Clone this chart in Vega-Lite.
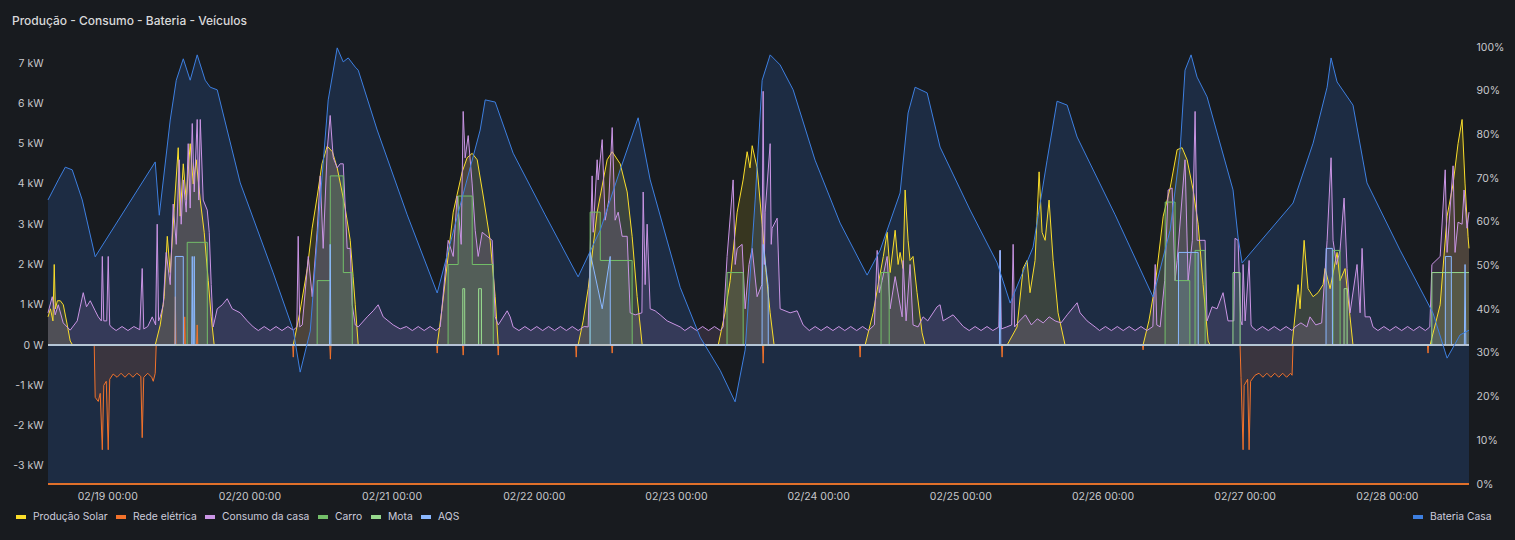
{
  "$schema": "https://vega.github.io/schema/vega-lite/v6.json",
  "width": 1421,
  "height": 437,
  "autosize": {"type": "none"},
  "padding": {"left": 48, "top": 47, "right": 46, "bottom": 56},
  "background": "#181b1f",
  "title": {"text": "Produção - Consumo - Bateria - Veículos", "anchor": "start", "frame": "group", "dx": -36, "offset": 14, "fontSize": 12, "fontWeight": 500, "color": "#d8d9da"},
  "config": {
    "font": "Inter",
    "view": {"stroke": null},
    "axis": {"labelColor": "#c7c8cc", "labelFontSize": 10.5, "grid": false, "domain": false, "ticks": false, "title": null},
    "legend": {"labelColor": "#ccccdc", "labelFontSize": 10.3}
  },
  "datasets": {
    "bat": [
      {"t": "2025-02-18T14:00", "v": 65}, {"t": "2025-02-18T15:45", "v": 69.6}, {"t": "2025-02-18T16:55", "v": 72.5},
      {"t": "2025-02-18T18:05", "v": 71.9}, {"t": "2025-02-18T19:47", "v": 65}, {"t": "2025-02-18T21:58", "v": 52},
      {"t": "2025-02-19T08:06", "v": 73.7}, {"t": "2025-02-19T08:47", "v": 61.5}, {"t": "2025-02-19T10:38", "v": 83.3},
      {"t": "2025-02-19T11:39", "v": 92.4}, {"t": "2025-02-19T12:50", "v": 97.3}, {"t": "2025-02-19T14:00", "v": 92.4},
      {"t": "2025-02-19T15:11", "v": 98.2}, {"t": "2025-02-19T16:32", "v": 92.4}, {"t": "2025-02-19T17:23", "v": 90.8},
      {"t": "2025-02-19T18:34", "v": 90.2}, {"t": "2025-02-19T22:27", "v": 68.9}, {"t": "2025-02-20T04:01", "v": 48.3},
      {"t": "2025-02-20T07:24", "v": 35.2}, {"t": "2025-02-20T08:34", "v": 25.6}, {"t": "2025-02-20T10:16", "v": 35},
      {"t": "2025-02-20T11:57", "v": 65}, {"t": "2025-02-20T13:18", "v": 87.9}, {"t": "2025-02-20T14:49", "v": 99.8},
      {"t": "2025-02-20T15:50", "v": 96.6}, {"t": "2025-02-20T16:41", "v": 97.5}, {"t": "2025-02-20T17:52", "v": 95.4},
      {"t": "2025-02-20T18:22", "v": 94.7}, {"t": "2025-02-20T21:34", "v": 81}, {"t": "2025-02-21T02:38", "v": 61.6},
      {"t": "2025-02-21T07:42", "v": 43.7}, {"t": "2025-02-21T11:35", "v": 63.8}, {"t": "2025-02-21T14:57", "v": 81},
      {"t": "2025-02-21T15:48", "v": 87.9}, {"t": "2025-02-21T17:29", "v": 87.4}, {"t": "2025-02-21T20:31", "v": 75.7},
      {"t": "2025-02-22T01:55", "v": 61.6}, {"t": "2025-02-22T07:29", "v": 47.4}, {"t": "2025-02-22T11:13", "v": 58.1},
      {"t": "2025-02-22T14:35", "v": 71.9}, {"t": "2025-02-22T17:37", "v": 83.8}, {"t": "2025-02-22T19:39", "v": 69.6},
      {"t": "2025-02-23T00:43", "v": 45}, {"t": "2025-02-23T04:05", "v": 33.6}, {"t": "2025-02-23T07:28", "v": 26},
      {"t": "2025-02-23T09:59", "v": 18.8}, {"t": "2025-02-23T11:41", "v": 30.7}, {"t": "2025-02-23T13:22", "v": 65},
      {"t": "2025-02-23T14:33", "v": 92.4}, {"t": "2025-02-23T15:54", "v": 98.2}, {"t": "2025-02-23T17:35", "v": 95.9},
      {"t": "2025-02-23T19:47", "v": 90.2}, {"t": "2025-02-23T23:29", "v": 74.1}, {"t": "2025-02-24T03:43", "v": 59.7},
      {"t": "2025-02-24T08:16", "v": 47.8}, {"t": "2025-02-24T10:28", "v": 53.5}, {"t": "2025-02-24T13:50", "v": 66.6},
      {"t": "2025-02-24T15:11", "v": 84.9}, {"t": "2025-02-24T16:22", "v": 90.8}, {"t": "2025-02-24T18:24", "v": 89.5},
      {"t": "2025-02-24T20:35", "v": 77.1}, {"t": "2025-02-25T01:39", "v": 62.7}, {"t": "2025-02-25T06:13", "v": 50.6},
      {"t": "2025-02-25T08:25", "v": 41.4}, {"t": "2025-02-25T12:17", "v": 54.2}, {"t": "2025-02-25T14:39", "v": 74.1},
      {"t": "2025-02-25T16:20", "v": 87.6}, {"t": "2025-02-25T18:02", "v": 86.7}, {"t": "2025-02-25T19:43", "v": 79.4},
      {"t": "2025-02-26T02:08", "v": 61.6}, {"t": "2025-02-26T08:32", "v": 42.8}, {"t": "2025-02-26T11:25", "v": 58.1},
      {"t": "2025-02-26T13:06", "v": 76.4}, {"t": "2025-02-26T13:56", "v": 94.7}, {"t": "2025-02-26T14:57", "v": 98.2},
      {"t": "2025-02-26T15:58", "v": 93.1}, {"t": "2025-02-26T17:39", "v": 88.6}, {"t": "2025-02-26T22:02", "v": 67.3},
      {"t": "2025-02-26T22:53", "v": 56.5}, {"t": "2025-02-26T23:34", "v": 50.6}, {"t": "2025-02-27T08:10", "v": 64.3},
      {"t": "2025-02-27T11:33", "v": 78}, {"t": "2025-02-27T13:55", "v": 90.8}, {"t": "2025-02-27T14:35", "v": 97.5},
      {"t": "2025-02-27T15:36", "v": 92}, {"t": "2025-02-27T18:17", "v": 86.7}, {"t": "2025-02-27T20:39", "v": 68.9},
      {"t": "2025-02-28T02:14", "v": 53.5}, {"t": "2025-02-28T07:48", "v": 39.1}, {"t": "2025-02-28T10:10", "v": 28.8},
      {"t": "2025-02-28T12:21", "v": 34.1}, {"t": "2025-02-28T13:52", "v": 35.2}
    ],
    "pw": [
      {"s": "S", "t": "2025-02-18T14:00", "v": 0.7}, {"s": "S", "t": "2025-02-18T14:25", "v": 0.9}, {"s": "S", "t": "2025-02-18T14:50", "v": 0.6},
      {"s": "S", "t": "2025-02-18T15:03", "v": 2.0}, {"s": "S", "t": "2025-02-18T15:15", "v": 0.9}, {"s": "S", "t": "2025-02-18T15:35", "v": 1.1},
      {"s": "S", "t": "2025-02-18T16:05", "v": 1.1}, {"s": "S", "t": "2025-02-18T16:35", "v": 1.0}, {"s": "S", "t": "2025-02-18T17:15", "v": 0.5},
      {"s": "S", "t": "2025-02-18T17:45", "v": 0.1}, {"s": "S", "t": "2025-02-18T18:10", "v": 0},
      {"s": "S", "t": "2025-02-19T08:06", "v": 0}, {"s": "S", "t": "2025-02-19T08:57", "v": 0.5}, {"s": "S", "t": "2025-02-19T09:37", "v": 1.2},
      {"s": "S", "t": "2025-02-19T10:08", "v": 2.7}, {"s": "S", "t": "2025-02-19T10:38", "v": 1.8}, {"s": "S", "t": "2025-02-19T11:18", "v": 3.4},
      {"s": "S", "t": "2025-02-19T11:59", "v": 4.9}, {"s": "S", "t": "2025-02-19T12:19", "v": 3.2}, {"s": "S", "t": "2025-02-19T12:50", "v": 4.5},
      {"s": "S", "t": "2025-02-19T13:20", "v": 3.6}, {"s": "S", "t": "2025-02-19T14:00", "v": 5.0}, {"s": "S", "t": "2025-02-19T14:31", "v": 4.0},
      {"s": "S", "t": "2025-02-19T15:01", "v": 4.6}, {"s": "S", "t": "2025-02-19T15:42", "v": 3.6}, {"s": "S", "t": "2025-02-19T16:22", "v": 2.8},
      {"s": "S", "t": "2025-02-19T17:03", "v": 1.6}, {"s": "S", "t": "2025-02-19T17:33", "v": 0.7}, {"s": "S", "t": "2025-02-19T18:03", "v": 0},
      {"s": "S", "t": "2025-02-20T07:24", "v": 0}, {"s": "S", "t": "2025-02-20T08:30", "v": 0.8}, {"s": "S", "t": "2025-02-20T09:46", "v": 1.9},
      {"s": "S", "t": "2025-02-20T10:35", "v": 2.9}, {"s": "S", "t": "2025-02-20T11:27", "v": 3.7}, {"s": "S", "t": "2025-02-20T12:15", "v": 4.5},
      {"s": "S", "t": "2025-02-20T13:08", "v": 4.94}, {"s": "S", "t": "2025-02-20T14:00", "v": 4.8}, {"s": "S", "t": "2025-02-20T14:49", "v": 4.4},
      {"s": "S", "t": "2025-02-20T15:30", "v": 3.9}, {"s": "S", "t": "2025-02-20T16:10", "v": 3.4}, {"s": "S", "t": "2025-02-20T17:01", "v": 2.6},
      {"s": "S", "t": "2025-02-20T17:30", "v": 1.7}, {"s": "S", "t": "2025-02-20T17:52", "v": 1.0}, {"s": "S", "t": "2025-02-20T18:22", "v": 0},
      {"s": "S", "t": "2025-02-21T07:42", "v": 0}, {"s": "S", "t": "2025-02-21T08:30", "v": 0.9}, {"s": "S", "t": "2025-02-21T09:23", "v": 2.0},
      {"s": "S", "t": "2025-02-21T10:24", "v": 3.3}, {"s": "S", "t": "2025-02-21T11:55", "v": 4.3}, {"s": "S", "t": "2025-02-21T12:45", "v": 4.65},
      {"s": "S", "t": "2025-02-21T13:36", "v": 4.76}, {"s": "S", "t": "2025-02-21T14:27", "v": 4.6}, {"s": "S", "t": "2025-02-21T15:28", "v": 3.7},
      {"s": "S", "t": "2025-02-21T16:38", "v": 2.6}, {"s": "S", "t": "2025-02-21T17:29", "v": 1.2}, {"s": "S", "t": "2025-02-21T18:00", "v": 0},
      {"s": "S", "t": "2025-02-22T07:29", "v": 0}, {"s": "S", "t": "2025-02-22T08:20", "v": 0.6}, {"s": "S", "t": "2025-02-22T09:11", "v": 1.4},
      {"s": "S", "t": "2025-02-22T10:42", "v": 3.3}, {"s": "S", "t": "2025-02-22T12:23", "v": 4.6}, {"s": "S", "t": "2025-02-22T13:14", "v": 4.8},
      {"s": "S", "t": "2025-02-22T14:35", "v": 4.5}, {"s": "S", "t": "2025-02-22T15:46", "v": 3.8}, {"s": "S", "t": "2025-02-22T16:36", "v": 2.7},
      {"s": "S", "t": "2025-02-22T17:27", "v": 1.2}, {"s": "S", "t": "2025-02-22T18:18", "v": 0},
      {"s": "S", "t": "2025-02-23T07:08", "v": 0}, {"s": "S", "t": "2025-02-23T08:17", "v": 0.8}, {"s": "S", "t": "2025-02-23T09:09", "v": 1.6},
      {"s": "S", "t": "2025-02-23T10:20", "v": 3.3}, {"s": "S", "t": "2025-02-23T11:20", "v": 4.1}, {"s": "S", "t": "2025-02-23T12:01", "v": 4.8},
      {"s": "S", "t": "2025-02-23T12:30", "v": 4.4}, {"s": "S", "t": "2025-02-23T12:52", "v": 4.95}, {"s": "S", "t": "2025-02-23T13:42", "v": 4.4},
      {"s": "S", "t": "2025-02-23T14:33", "v": 3.0}, {"s": "S", "t": "2025-02-23T15:13", "v": 1.8}, {"s": "S", "t": "2025-02-23T15:54", "v": 0.8},
      {"s": "S", "t": "2025-02-23T16:34", "v": 0},
      {"s": "S", "t": "2025-02-24T07:56", "v": 0}, {"s": "S", "t": "2025-02-24T09:17", "v": 0.8}, {"s": "S", "t": "2025-02-24T10:08", "v": 1.5},
      {"s": "S", "t": "2025-02-24T11:00", "v": 2.2}, {"s": "S", "t": "2025-02-24T11:39", "v": 2.8}, {"s": "S", "t": "2025-02-24T12:09", "v": 1.8},
      {"s": "S", "t": "2025-02-24T13:00", "v": 2.85}, {"s": "S", "t": "2025-02-24T13:30", "v": 2.0}, {"s": "S", "t": "2025-02-24T13:50", "v": 2.3},
      {"s": "S", "t": "2025-02-24T14:20", "v": 1.9}, {"s": "S", "t": "2025-02-24T14:41", "v": 3.85}, {"s": "S", "t": "2025-02-24T15:11", "v": 2.6},
      {"s": "S", "t": "2025-02-24T15:31", "v": 2.1}, {"s": "S", "t": "2025-02-24T16:01", "v": 2.2}, {"s": "S", "t": "2025-02-24T16:42", "v": 1.3},
      {"s": "S", "t": "2025-02-24T17:33", "v": 0.3}, {"s": "S", "t": "2025-02-24T18:03", "v": 0},
      {"s": "S", "t": "2025-02-25T07:54", "v": 0}, {"s": "S", "t": "2025-02-25T09:35", "v": 0.45}, {"s": "S", "t": "2025-02-25T10:36", "v": 1.9},
      {"s": "S", "t": "2025-02-25T11:16", "v": 2.1}, {"s": "S", "t": "2025-02-25T11:46", "v": 1.3}, {"s": "S", "t": "2025-02-25T12:37", "v": 2.1},
      {"s": "S", "t": "2025-02-25T12:58", "v": 3.2}, {"s": "S", "t": "2025-02-25T13:18", "v": 4.3}, {"s": "S", "t": "2025-02-25T13:48", "v": 2.8},
      {"s": "S", "t": "2025-02-25T14:19", "v": 2.6}, {"s": "S", "t": "2025-02-25T14:59", "v": 3.6}, {"s": "S", "t": "2025-02-25T15:40", "v": 2.1},
      {"s": "S", "t": "2025-02-25T16:30", "v": 0.8}, {"s": "S", "t": "2025-02-25T17:41", "v": 0},
      {"s": "S", "t": "2025-02-26T06:51", "v": 0}, {"s": "S", "t": "2025-02-26T07:50", "v": 0.6}, {"s": "S", "t": "2025-02-26T08:54", "v": 1.5},
      {"s": "S", "t": "2025-02-26T10:15", "v": 3.2}, {"s": "S", "t": "2025-02-26T11:25", "v": 3.9}, {"s": "S", "t": "2025-02-26T12:36", "v": 4.85},
      {"s": "S", "t": "2025-02-26T13:26", "v": 4.9}, {"s": "S", "t": "2025-02-26T14:17", "v": 4.6}, {"s": "S", "t": "2025-02-26T15:18", "v": 3.85},
      {"s": "S", "t": "2025-02-26T16:09", "v": 3.0}, {"s": "S", "t": "2025-02-26T16:59", "v": 1.5}, {"s": "S", "t": "2025-02-26T17:50", "v": 0.1},
      {"s": "S", "t": "2025-02-26T18:10", "v": 0},
      {"s": "S", "t": "2025-02-27T08:00", "v": 0}, {"s": "S", "t": "2025-02-27T09:01", "v": 1.5}, {"s": "S", "t": "2025-02-27T09:21", "v": 0.9},
      {"s": "S", "t": "2025-02-27T10:02", "v": 2.6}, {"s": "S", "t": "2025-02-27T10:42", "v": 1.4}, {"s": "S", "t": "2025-02-27T11:33", "v": 1.2},
      {"s": "S", "t": "2025-02-27T12:23", "v": 1.3}, {"s": "S", "t": "2025-02-27T13:14", "v": 1.5}, {"s": "S", "t": "2025-02-27T13:34", "v": 1.9},
      {"s": "S", "t": "2025-02-27T14:25", "v": 1.4}, {"s": "S", "t": "2025-02-27T15:36", "v": 2.3}, {"s": "S", "t": "2025-02-27T16:06", "v": 1.6},
      {"s": "S", "t": "2025-02-27T16:57", "v": 1.9}, {"s": "S", "t": "2025-02-27T17:47", "v": 0.7}, {"s": "S", "t": "2025-02-27T18:17", "v": 0},
      {"s": "S", "t": "2025-02-28T07:18", "v": 0}, {"s": "S", "t": "2025-02-28T09:00", "v": 1.0}, {"s": "S", "t": "2025-02-28T10:10", "v": 3.2},
      {"s": "S", "t": "2025-02-28T11:11", "v": 4.0}, {"s": "S", "t": "2025-02-28T12:01", "v": 5.0}, {"s": "S", "t": "2025-02-28T12:42", "v": 5.6},
      {"s": "S", "t": "2025-02-28T13:12", "v": 4.0}, {"s": "S", "t": "2025-02-28T13:42", "v": 2.7}, {"s": "S", "t": "2025-02-28T13:52", "v": 2.4},

      {"s": "R", "t": "2025-02-18T14:00", "v": 0}, {"s": "R", "t": "2025-02-18T21:48", "v": 0}, {"s": "R", "t": "2025-02-18T21:58", "v": -1.3},
      {"s": "R", "t": "2025-02-18T22:29", "v": -1.4}, {"s": "R", "t": "2025-02-18T22:49", "v": -1.2}, {"s": "R", "t": "2025-02-18T23:10", "v": -2.6},
      {"s": "R", "t": "2025-02-18T23:25", "v": -1.0}, {"s": "R", "t": "2025-02-18T23:50", "v": -0.9}, {"s": "R", "t": "2025-02-19T00:10", "v": -2.6},
      {"s": "R", "t": "2025-02-19T00:25", "v": -0.85}, {"s": "R", "t": "2025-02-19T01:00", "v": -0.72}, {"s": "R", "t": "2025-02-19T01:40", "v": -0.8},
      {"s": "R", "t": "2025-02-19T02:20", "v": -0.7}, {"s": "R", "t": "2025-02-19T03:00", "v": -0.8}, {"s": "R", "t": "2025-02-19T03:40", "v": -0.7},
      {"s": "R", "t": "2025-02-19T04:20", "v": -0.8}, {"s": "R", "t": "2025-02-19T05:00", "v": -0.7}, {"s": "R", "t": "2025-02-19T05:40", "v": -0.78},
      {"s": "R", "t": "2025-02-19T05:54", "v": -2.3}, {"s": "R", "t": "2025-02-19T06:10", "v": -0.8}, {"s": "R", "t": "2025-02-19T06:50", "v": -0.7},
      {"s": "R", "t": "2025-02-19T07:30", "v": -0.8}, {"s": "R", "t": "2025-02-19T07:46", "v": -0.9}, {"s": "R", "t": "2025-02-19T08:06", "v": -0.7},
      {"s": "R", "t": "2025-02-19T08:16", "v": 0}, {"s": "R", "t": "2025-02-19T11:24", "v": 0}, {"s": "R", "t": "2025-02-19T11:30", "v": 1.2},
      {"s": "R", "t": "2025-02-19T11:36", "v": 0}, {"s": "R", "t": "2025-02-19T12:59", "v": 0}, {"s": "R", "t": "2025-02-19T13:05", "v": 0.7},
      {"s": "R", "t": "2025-02-19T13:11", "v": 0}, {"s": "R", "t": "2025-02-19T15:05", "v": 0}, {"s": "R", "t": "2025-02-19T15:11", "v": 0.5},
      {"s": "R", "t": "2025-02-19T15:17", "v": 0},
      {"s": "R", "t": "2025-02-20T07:18", "v": 0}, {"s": "R", "t": "2025-02-20T07:24", "v": -0.3}, {"s": "R", "t": "2025-02-20T07:30", "v": 0},
      {"s": "R", "t": "2025-02-20T13:34", "v": 0}, {"s": "R", "t": "2025-02-20T13:40", "v": -0.35}, {"s": "R", "t": "2025-02-20T13:46", "v": 0},
      {"s": "R", "t": "2025-02-21T07:36", "v": 0}, {"s": "R", "t": "2025-02-21T07:42", "v": -0.2}, {"s": "R", "t": "2025-02-21T07:48", "v": 0},
      {"s": "R", "t": "2025-02-21T11:59", "v": 0}, {"s": "R", "t": "2025-02-21T12:05", "v": -0.25}, {"s": "R", "t": "2025-02-21T12:11", "v": 0},
      {"s": "R", "t": "2025-02-21T17:54", "v": 0}, {"s": "R", "t": "2025-02-21T18:00", "v": -0.25}, {"s": "R", "t": "2025-02-21T18:06", "v": 0},
      {"s": "R", "t": "2025-02-22T07:04", "v": 0}, {"s": "R", "t": "2025-02-22T07:10", "v": -0.3}, {"s": "R", "t": "2025-02-22T07:16", "v": 0},
      {"s": "R", "t": "2025-02-22T13:08", "v": 0}, {"s": "R", "t": "2025-02-22T13:14", "v": -0.2}, {"s": "R", "t": "2025-02-22T13:20", "v": 0},
      {"s": "R", "t": "2025-02-23T14:37", "v": 0}, {"s": "R", "t": "2025-02-23T14:43", "v": -0.45}, {"s": "R", "t": "2025-02-23T14:49", "v": 0},
      {"s": "R", "t": "2025-02-24T06:59", "v": 0}, {"s": "R", "t": "2025-02-24T07:05", "v": -0.3}, {"s": "R", "t": "2025-02-24T07:11", "v": 0},
      {"s": "R", "t": "2025-02-25T06:57", "v": 0}, {"s": "R", "t": "2025-02-25T07:03", "v": -0.3}, {"s": "R", "t": "2025-02-25T07:09", "v": 0},
      {"s": "R", "t": "2025-02-26T06:45", "v": 0}, {"s": "R", "t": "2025-02-26T06:51", "v": -0.12}, {"s": "R", "t": "2025-02-26T06:57", "v": 0},
      {"s": "R", "t": "2025-02-26T23:13", "v": 0}, {"s": "R", "t": "2025-02-26T23:23", "v": -0.8}, {"s": "R", "t": "2025-02-26T23:44", "v": -2.6},
      {"s": "R", "t": "2025-02-26T23:55", "v": -1.0}, {"s": "R", "t": "2025-02-27T00:30", "v": -0.85}, {"s": "R", "t": "2025-02-27T00:45", "v": -2.6},
      {"s": "R", "t": "2025-02-27T01:00", "v": -0.9}, {"s": "R", "t": "2025-02-27T01:45", "v": -0.75}, {"s": "R", "t": "2025-02-27T02:25", "v": -0.7},
      {"s": "R", "t": "2025-02-27T03:05", "v": -0.8}, {"s": "R", "t": "2025-02-27T03:45", "v": -0.7}, {"s": "R", "t": "2025-02-27T04:25", "v": -0.8},
      {"s": "R", "t": "2025-02-27T05:05", "v": -0.7}, {"s": "R", "t": "2025-02-27T05:45", "v": -0.8}, {"s": "R", "t": "2025-02-27T06:25", "v": -0.7},
      {"s": "R", "t": "2025-02-27T07:05", "v": -0.8}, {"s": "R", "t": "2025-02-27T07:45", "v": -0.7}, {"s": "R", "t": "2025-02-27T08:00", "v": -0.75},
      {"s": "R", "t": "2025-02-27T08:10", "v": 0}, {"s": "R", "t": "2025-02-28T06:51", "v": 0}, {"s": "R", "t": "2025-02-28T06:57", "v": -0.2},
      {"s": "R", "t": "2025-02-28T07:03", "v": 0}, {"s": "R", "t": "2025-02-28T13:52", "v": 0},

      {"s": "C", "t": "2025-02-18T14:00", "v": 0.8}, {"s": "C", "t": "2025-02-18T14:43", "v": 1.2}, {"s": "C", "t": "2025-02-18T15:13", "v": 0.75},
      {"s": "C", "t": "2025-02-18T15:44", "v": 1.0}, {"s": "C", "t": "2025-02-18T16:34", "v": 0.55}, {"s": "C", "t": "2025-02-18T17:45", "v": 0.37},
      {"s": "C", "t": "2025-02-18T18:56", "v": 0.6}, {"s": "C", "t": "2025-02-18T19:57", "v": 1.3}, {"s": "C", "t": "2025-02-18T20:30", "v": 0.95},
      {"s": "C", "t": "2025-02-18T21:08", "v": 1.1}, {"s": "C", "t": "2025-02-18T21:58", "v": 0.85}, {"s": "C", "t": "2025-02-18T22:29", "v": 0.7},
      {"s": "C", "t": "2025-02-18T23:00", "v": 0.6}, {"s": "C", "t": "2025-02-18T23:10", "v": 2.2}, {"s": "C", "t": "2025-02-18T23:25", "v": 0.6},
      {"s": "C", "t": "2025-02-18T23:55", "v": 0.6}, {"s": "C", "t": "2025-02-19T00:10", "v": 2.2}, {"s": "C", "t": "2025-02-19T00:25", "v": 0.5},
      {"s": "C", "t": "2025-02-19T00:40", "v": 0.45}, {"s": "C", "t": "2025-02-19T01:30", "v": 0.36}, {"s": "C", "t": "2025-02-19T02:30", "v": 0.46},
      {"s": "C", "t": "2025-02-19T03:30", "v": 0.36}, {"s": "C", "t": "2025-02-19T04:30", "v": 0.46}, {"s": "C", "t": "2025-02-19T05:30", "v": 0.38},
      {"s": "C", "t": "2025-02-19T05:54", "v": 1.9}, {"s": "C", "t": "2025-02-19T06:10", "v": 0.4}, {"s": "C", "t": "2025-02-19T06:50", "v": 0.46},
      {"s": "C", "t": "2025-02-19T07:36", "v": 0.7}, {"s": "C", "t": "2025-02-19T08:10", "v": 0.5}, {"s": "C", "t": "2025-02-19T08:26", "v": 3.0},
      {"s": "C", "t": "2025-02-19T08:40", "v": 0.6}, {"s": "C", "t": "2025-02-19T08:57", "v": 0.7}, {"s": "C", "t": "2025-02-19T09:27", "v": 1.0},
      {"s": "C", "t": "2025-02-19T09:57", "v": 2.3}, {"s": "C", "t": "2025-02-19T10:38", "v": 1.5}, {"s": "C", "t": "2025-02-19T11:08", "v": 3.5},
      {"s": "C", "t": "2025-02-19T11:39", "v": 2.5}, {"s": "C", "t": "2025-02-19T12:09", "v": 4.6}, {"s": "C", "t": "2025-02-19T12:29", "v": 3.0},
      {"s": "C", "t": "2025-02-19T12:50", "v": 4.1}, {"s": "C", "t": "2025-02-19T13:20", "v": 3.3}, {"s": "C", "t": "2025-02-19T13:40", "v": 5.0},
      {"s": "C", "t": "2025-02-19T14:00", "v": 3.4}, {"s": "C", "t": "2025-02-19T14:21", "v": 5.5}, {"s": "C", "t": "2025-02-19T14:41", "v": 3.8},
      {"s": "C", "t": "2025-02-19T15:11", "v": 5.6}, {"s": "C", "t": "2025-02-19T15:27", "v": 3.6}, {"s": "C", "t": "2025-02-19T15:42", "v": 5.6},
      {"s": "C", "t": "2025-02-19T16:12", "v": 3.6}, {"s": "C", "t": "2025-02-19T16:53", "v": 3.35}, {"s": "C", "t": "2025-02-19T17:13", "v": 2.8},
      {"s": "C", "t": "2025-02-19T17:33", "v": 1.5}, {"s": "C", "t": "2025-02-19T17:53", "v": 0.45}, {"s": "C", "t": "2025-02-19T18:34", "v": 0.9},
      {"s": "C", "t": "2025-02-19T19:25", "v": 1.0}, {"s": "C", "t": "2025-02-19T20:15", "v": 1.15}, {"s": "C", "t": "2025-02-19T21:06", "v": 0.9},
      {"s": "C", "t": "2025-02-19T22:27", "v": 0.8}, {"s": "C", "t": "2025-02-19T23:38", "v": 0.6}, {"s": "C", "t": "2025-02-20T00:39", "v": 0.45},
      {"s": "C", "t": "2025-02-20T01:30", "v": 0.36}, {"s": "C", "t": "2025-02-20T02:30", "v": 0.46}, {"s": "C", "t": "2025-02-20T03:30", "v": 0.36},
      {"s": "C", "t": "2025-02-20T04:30", "v": 0.46}, {"s": "C", "t": "2025-02-20T05:30", "v": 0.36}, {"s": "C", "t": "2025-02-20T06:30", "v": 0.46},
      {"s": "C", "t": "2025-02-20T07:24", "v": 0.37}, {"s": "C", "t": "2025-02-20T08:00", "v": 0.45}, {"s": "C", "t": "2025-02-20T08:14", "v": 2.7},
      {"s": "C", "t": "2025-02-20T08:30", "v": 0.45}, {"s": "C", "t": "2025-02-20T08:55", "v": 0.5}, {"s": "C", "t": "2025-02-20T09:56", "v": 2.2},
      {"s": "C", "t": "2025-02-20T10:36", "v": 1.2}, {"s": "C", "t": "2025-02-20T11:27", "v": 2.85}, {"s": "C", "t": "2025-02-20T11:57", "v": 4.2},
      {"s": "C", "t": "2025-02-20T12:27", "v": 2.4}, {"s": "C", "t": "2025-02-20T13:08", "v": 4.85}, {"s": "C", "t": "2025-02-20T13:38", "v": 5.7},
      {"s": "C", "t": "2025-02-20T14:09", "v": 4.65}, {"s": "C", "t": "2025-02-20T14:49", "v": 4.4}, {"s": "C", "t": "2025-02-20T15:19", "v": 4.5},
      {"s": "C", "t": "2025-02-20T15:50", "v": 4.5}, {"s": "C", "t": "2025-02-20T16:30", "v": 2.4}, {"s": "C", "t": "2025-02-20T17:01", "v": 2.4},
      {"s": "C", "t": "2025-02-20T17:21", "v": 1.0}, {"s": "C", "t": "2025-02-20T17:52", "v": 0.5}, {"s": "C", "t": "2025-02-20T18:22", "v": 0.45},
      {"s": "C", "t": "2025-02-20T19:53", "v": 0.7}, {"s": "C", "t": "2025-02-20T20:54", "v": 0.85}, {"s": "C", "t": "2025-02-20T21:44", "v": 1.0},
      {"s": "C", "t": "2025-02-20T22:35", "v": 0.7}, {"s": "C", "t": "2025-02-21T00:16", "v": 0.5}, {"s": "C", "t": "2025-02-21T01:27", "v": 0.4},
      {"s": "C", "t": "2025-02-21T02:30", "v": 0.46}, {"s": "C", "t": "2025-02-21T03:30", "v": 0.36}, {"s": "C", "t": "2025-02-21T04:30", "v": 0.46},
      {"s": "C", "t": "2025-02-21T05:30", "v": 0.36}, {"s": "C", "t": "2025-02-21T06:30", "v": 0.46}, {"s": "C", "t": "2025-02-21T07:30", "v": 0.36},
      {"s": "C", "t": "2025-02-21T08:12", "v": 0.45}, {"s": "C", "t": "2025-02-21T09:33", "v": 2.6}, {"s": "C", "t": "2025-02-21T10:24", "v": 2.2},
      {"s": "C", "t": "2025-02-21T11:04", "v": 3.7}, {"s": "C", "t": "2025-02-21T11:45", "v": 2.5}, {"s": "C", "t": "2025-02-21T12:05", "v": 5.8},
      {"s": "C", "t": "2025-02-21T12:25", "v": 4.65}, {"s": "C", "t": "2025-02-21T12:56", "v": 5.2}, {"s": "C", "t": "2025-02-21T13:36", "v": 4.0},
      {"s": "C", "t": "2025-02-21T14:07", "v": 2.85}, {"s": "C", "t": "2025-02-21T14:37", "v": 2.2}, {"s": "C", "t": "2025-02-21T15:18", "v": 2.8},
      {"s": "C", "t": "2025-02-21T16:08", "v": 2.7}, {"s": "C", "t": "2025-02-21T16:59", "v": 2.6}, {"s": "C", "t": "2025-02-21T17:29", "v": 0.7},
      {"s": "C", "t": "2025-02-21T18:00", "v": 0.5}, {"s": "C", "t": "2025-02-21T19:31", "v": 0.85}, {"s": "C", "t": "2025-02-21T20:01", "v": 0.7},
      {"s": "C", "t": "2025-02-21T20:31", "v": 0.45}, {"s": "C", "t": "2025-02-21T21:30", "v": 0.36}, {"s": "C", "t": "2025-02-21T22:30", "v": 0.46},
      {"s": "C", "t": "2025-02-21T23:30", "v": 0.36}, {"s": "C", "t": "2025-02-22T00:30", "v": 0.46}, {"s": "C", "t": "2025-02-22T01:30", "v": 0.36},
      {"s": "C", "t": "2025-02-22T02:30", "v": 0.46}, {"s": "C", "t": "2025-02-22T03:30", "v": 0.36}, {"s": "C", "t": "2025-02-22T04:30", "v": 0.46},
      {"s": "C", "t": "2025-02-22T05:30", "v": 0.36}, {"s": "C", "t": "2025-02-22T06:30", "v": 0.46}, {"s": "C", "t": "2025-02-22T07:30", "v": 0.36},
      {"s": "C", "t": "2025-02-22T08:30", "v": 0.46}, {"s": "C", "t": "2025-02-22T09:11", "v": 0.45}, {"s": "C", "t": "2025-02-22T09:51", "v": 4.2},
      {"s": "C", "t": "2025-02-22T10:02", "v": 2.8}, {"s": "C", "t": "2025-02-22T10:42", "v": 4.6}, {"s": "C", "t": "2025-02-22T10:52", "v": 4.1},
      {"s": "C", "t": "2025-02-22T11:33", "v": 5.1}, {"s": "C", "t": "2025-02-22T12:03", "v": 3.1}, {"s": "C", "t": "2025-02-22T12:40", "v": 3.6},
      {"s": "C", "t": "2025-02-22T13:14", "v": 5.4}, {"s": "C", "t": "2025-02-22T13:44", "v": 3.1}, {"s": "C", "t": "2025-02-22T14:15", "v": 3.3},
      {"s": "C", "t": "2025-02-22T14:55", "v": 2.7}, {"s": "C", "t": "2025-02-22T15:46", "v": 2.7}, {"s": "C", "t": "2025-02-22T16:16", "v": 0.8},
      {"s": "C", "t": "2025-02-22T17:07", "v": 0.75}, {"s": "C", "t": "2025-02-22T18:15", "v": 0.8}, {"s": "C", "t": "2025-02-22T18:28", "v": 3.8},
      {"s": "C", "t": "2025-02-22T18:48", "v": 1.5}, {"s": "C", "t": "2025-02-22T19:08", "v": 3.0}, {"s": "C", "t": "2025-02-22T19:39", "v": 0.9},
      {"s": "C", "t": "2025-02-22T20:29", "v": 0.85}, {"s": "C", "t": "2025-02-22T21:20", "v": 0.75}, {"s": "C", "t": "2025-02-22T22:31", "v": 0.6},
      {"s": "C", "t": "2025-02-23T00:43", "v": 0.45}, {"s": "C", "t": "2025-02-23T01:30", "v": 0.36}, {"s": "C", "t": "2025-02-23T02:30", "v": 0.46},
      {"s": "C", "t": "2025-02-23T03:30", "v": 0.36}, {"s": "C", "t": "2025-02-23T04:30", "v": 0.46}, {"s": "C", "t": "2025-02-23T05:30", "v": 0.36},
      {"s": "C", "t": "2025-02-23T06:30", "v": 0.46}, {"s": "C", "t": "2025-02-23T07:30", "v": 0.36}, {"s": "C", "t": "2025-02-23T07:58", "v": 0.45},
      {"s": "C", "t": "2025-02-23T08:38", "v": 2.2}, {"s": "C", "t": "2025-02-23T09:39", "v": 4.1}, {"s": "C", "t": "2025-02-23T10:00", "v": 2.0},
      {"s": "C", "t": "2025-02-23T10:20", "v": 2.4}, {"s": "C", "t": "2025-02-23T11:10", "v": 2.5}, {"s": "C", "t": "2025-02-23T11:41", "v": 0.9},
      {"s": "C", "t": "2025-02-23T12:20", "v": 2.0}, {"s": "C", "t": "2025-02-23T12:52", "v": 2.4}, {"s": "C", "t": "2025-02-23T13:42", "v": 1.2},
      {"s": "C", "t": "2025-02-23T14:30", "v": 1.5}, {"s": "C", "t": "2025-02-23T14:43", "v": 6.3}, {"s": "C", "t": "2025-02-23T14:55", "v": 2.0},
      {"s": "C", "t": "2025-02-23T15:03", "v": 3.3}, {"s": "C", "t": "2025-02-23T15:54", "v": 5.0}, {"s": "C", "t": "2025-02-23T16:05", "v": 2.5},
      {"s": "C", "t": "2025-02-23T16:14", "v": 2.9}, {"s": "C", "t": "2025-02-23T17:05", "v": 3.15}, {"s": "C", "t": "2025-02-23T17:35", "v": 0.9},
      {"s": "C", "t": "2025-02-23T19:16", "v": 0.8}, {"s": "C", "t": "2025-02-23T20:27", "v": 0.85}, {"s": "C", "t": "2025-02-23T21:28", "v": 0.5},
      {"s": "C", "t": "2025-02-23T22:30", "v": 0.36}, {"s": "C", "t": "2025-02-23T23:30", "v": 0.46}, {"s": "C", "t": "2025-02-24T00:30", "v": 0.36},
      {"s": "C", "t": "2025-02-24T01:30", "v": 0.46}, {"s": "C", "t": "2025-02-24T02:30", "v": 0.36}, {"s": "C", "t": "2025-02-24T03:30", "v": 0.46},
      {"s": "C", "t": "2025-02-24T04:30", "v": 0.36}, {"s": "C", "t": "2025-02-24T05:30", "v": 0.46}, {"s": "C", "t": "2025-02-24T06:30", "v": 0.36},
      {"s": "C", "t": "2025-02-24T07:30", "v": 0.46}, {"s": "C", "t": "2025-02-24T08:30", "v": 0.36}, {"s": "C", "t": "2025-02-24T09:30", "v": 0.5},
      {"s": "C", "t": "2025-02-24T09:58", "v": 2.35}, {"s": "C", "t": "2025-02-24T10:20", "v": 1.3}, {"s": "C", "t": "2025-02-24T10:48", "v": 1.6},
      {"s": "C", "t": "2025-02-24T11:39", "v": 2.2}, {"s": "C", "t": "2025-02-24T12:09", "v": 0.9}, {"s": "C", "t": "2025-02-24T13:00", "v": 1.7},
      {"s": "C", "t": "2025-02-24T14:11", "v": 0.7}, {"s": "C", "t": "2025-02-24T14:21", "v": 2.1}, {"s": "C", "t": "2025-02-24T14:51", "v": 0.6},
      {"s": "C", "t": "2025-02-24T15:31", "v": 2.0}, {"s": "C", "t": "2025-02-24T16:01", "v": 0.5}, {"s": "C", "t": "2025-02-24T16:52", "v": 0.45},
      {"s": "C", "t": "2025-02-24T17:43", "v": 0.7}, {"s": "C", "t": "2025-02-24T18:30", "v": 0.6}, {"s": "C", "t": "2025-02-24T20:05", "v": 0.95},
      {"s": "C", "t": "2025-02-24T20:35", "v": 1.0}, {"s": "C", "t": "2025-02-24T21:06", "v": 0.6}, {"s": "C", "t": "2025-02-24T22:47", "v": 0.75},
      {"s": "C", "t": "2025-02-24T23:58", "v": 0.55}, {"s": "C", "t": "2025-02-25T00:30", "v": 0.46}, {"s": "C", "t": "2025-02-25T01:30", "v": 0.36},
      {"s": "C", "t": "2025-02-25T02:30", "v": 0.46}, {"s": "C", "t": "2025-02-25T03:30", "v": 0.36}, {"s": "C", "t": "2025-02-25T04:30", "v": 0.46},
      {"s": "C", "t": "2025-02-25T05:30", "v": 0.36}, {"s": "C", "t": "2025-02-25T06:30", "v": 0.45}, {"s": "C", "t": "2025-02-25T06:43", "v": 2.35},
      {"s": "C", "t": "2025-02-25T06:55", "v": 0.4}, {"s": "C", "t": "2025-02-25T07:50", "v": 0.45}, {"s": "C", "t": "2025-02-25T08:40", "v": 0.5},
      {"s": "C", "t": "2025-02-25T08:55", "v": 2.5}, {"s": "C", "t": "2025-02-25T09:10", "v": 0.45}, {"s": "C", "t": "2025-02-25T10:00", "v": 0.6},
      {"s": "C", "t": "2025-02-25T11:00", "v": 0.75}, {"s": "C", "t": "2025-02-25T12:00", "v": 0.5}, {"s": "C", "t": "2025-02-25T13:00", "v": 0.65},
      {"s": "C", "t": "2025-02-25T14:00", "v": 0.55}, {"s": "C", "t": "2025-02-25T15:00", "v": 0.7}, {"s": "C", "t": "2025-02-25T16:00", "v": 0.6},
      {"s": "C", "t": "2025-02-25T17:00", "v": 0.55}, {"s": "C", "t": "2025-02-25T18:02", "v": 0.75}, {"s": "C", "t": "2025-02-25T19:43", "v": 1.05},
      {"s": "C", "t": "2025-02-25T20:13", "v": 0.8}, {"s": "C", "t": "2025-02-25T21:24", "v": 0.6}, {"s": "C", "t": "2025-02-25T22:45", "v": 0.45},
      {"s": "C", "t": "2025-02-25T23:30", "v": 0.36}, {"s": "C", "t": "2025-02-26T00:30", "v": 0.46}, {"s": "C", "t": "2025-02-26T01:30", "v": 0.36},
      {"s": "C", "t": "2025-02-26T02:30", "v": 0.46}, {"s": "C", "t": "2025-02-26T03:30", "v": 0.36}, {"s": "C", "t": "2025-02-26T04:30", "v": 0.46},
      {"s": "C", "t": "2025-02-26T05:30", "v": 0.36}, {"s": "C", "t": "2025-02-26T06:30", "v": 0.46}, {"s": "C", "t": "2025-02-26T07:30", "v": 0.36},
      {"s": "C", "t": "2025-02-26T08:30", "v": 0.46}, {"s": "C", "t": "2025-02-26T08:54", "v": 2.0}, {"s": "C", "t": "2025-02-26T09:10", "v": 0.5},
      {"s": "C", "t": "2025-02-26T09:44", "v": 0.45}, {"s": "C", "t": "2025-02-26T10:30", "v": 1.6}, {"s": "C", "t": "2025-02-26T11:05", "v": 3.85},
      {"s": "C", "t": "2025-02-26T11:45", "v": 3.9}, {"s": "C", "t": "2025-02-26T12:15", "v": 1.6}, {"s": "C", "t": "2025-02-26T12:36", "v": 2.1},
      {"s": "C", "t": "2025-02-26T13:56", "v": 4.6}, {"s": "C", "t": "2025-02-26T14:27", "v": 1.6}, {"s": "C", "t": "2025-02-26T15:10", "v": 2.6},
      {"s": "C", "t": "2025-02-26T15:38", "v": 5.8}, {"s": "C", "t": "2025-02-26T15:58", "v": 2.6}, {"s": "C", "t": "2025-02-26T16:49", "v": 2.6},
      {"s": "C", "t": "2025-02-26T17:19", "v": 2.6}, {"s": "C", "t": "2025-02-26T17:39", "v": 0.6}, {"s": "C", "t": "2025-02-26T18:30", "v": 0.95},
      {"s": "C", "t": "2025-02-26T19:20", "v": 0.9}, {"s": "C", "t": "2025-02-26T20:21", "v": 1.3}, {"s": "C", "t": "2025-02-26T21:11", "v": 0.6},
      {"s": "C", "t": "2025-02-26T22:10", "v": 0.6}, {"s": "C", "t": "2025-02-26T22:22", "v": 2.65}, {"s": "C", "t": "2025-02-26T22:53", "v": 2.6},
      {"s": "C", "t": "2025-02-26T23:20", "v": 0.6}, {"s": "C", "t": "2025-02-26T23:34", "v": 0.5}, {"s": "C", "t": "2025-02-26T23:44", "v": 2.0},
      {"s": "C", "t": "2025-02-27T00:05", "v": 0.6}, {"s": "C", "t": "2025-02-27T00:45", "v": 2.1}, {"s": "C", "t": "2025-02-27T01:05", "v": 0.5},
      {"s": "C", "t": "2025-02-27T01:15", "v": 0.45}, {"s": "C", "t": "2025-02-27T02:00", "v": 0.36}, {"s": "C", "t": "2025-02-27T03:00", "v": 0.46},
      {"s": "C", "t": "2025-02-27T04:00", "v": 0.36}, {"s": "C", "t": "2025-02-27T05:00", "v": 0.46}, {"s": "C", "t": "2025-02-27T06:00", "v": 0.36},
      {"s": "C", "t": "2025-02-27T07:00", "v": 0.46}, {"s": "C", "t": "2025-02-27T08:00", "v": 0.36}, {"s": "C", "t": "2025-02-27T08:30", "v": 0.45},
      {"s": "C", "t": "2025-02-27T09:30", "v": 0.55}, {"s": "C", "t": "2025-02-27T10:30", "v": 0.45}, {"s": "C", "t": "2025-02-27T11:01", "v": 0.7},
      {"s": "C", "t": "2025-02-27T12:00", "v": 0.5}, {"s": "C", "t": "2025-02-27T13:00", "v": 0.55}, {"s": "C", "t": "2025-02-27T13:55", "v": 2.6},
      {"s": "C", "t": "2025-02-27T14:35", "v": 4.65}, {"s": "C", "t": "2025-02-27T14:55", "v": 2.6}, {"s": "C", "t": "2025-02-27T15:30", "v": 2.0},
      {"s": "C", "t": "2025-02-27T16:06", "v": 2.35}, {"s": "C", "t": "2025-02-27T16:47", "v": 3.65}, {"s": "C", "t": "2025-02-27T17:17", "v": 1.9},
      {"s": "C", "t": "2025-02-27T17:47", "v": 0.8}, {"s": "C", "t": "2025-02-27T18:58", "v": 2.0}, {"s": "C", "t": "2025-02-27T19:29", "v": 0.8},
      {"s": "C", "t": "2025-02-27T19:49", "v": 2.4}, {"s": "C", "t": "2025-02-27T20:20", "v": 0.7}, {"s": "C", "t": "2025-02-27T21:10", "v": 0.7},
      {"s": "C", "t": "2025-02-27T21:40", "v": 0.45}, {"s": "C", "t": "2025-02-27T22:30", "v": 0.36}, {"s": "C", "t": "2025-02-27T23:30", "v": 0.46},
      {"s": "C", "t": "2025-02-28T00:30", "v": 0.36}, {"s": "C", "t": "2025-02-28T01:30", "v": 0.46}, {"s": "C", "t": "2025-02-28T02:30", "v": 0.36},
      {"s": "C", "t": "2025-02-28T03:30", "v": 0.46}, {"s": "C", "t": "2025-02-28T04:30", "v": 0.36}, {"s": "C", "t": "2025-02-28T05:30", "v": 0.46},
      {"s": "C", "t": "2025-02-28T06:30", "v": 0.36}, {"s": "C", "t": "2025-02-28T07:15", "v": 0.45}, {"s": "C", "t": "2025-02-28T07:36", "v": 2.0},
      {"s": "C", "t": "2025-02-28T09:00", "v": 2.2}, {"s": "C", "t": "2025-02-28T09:51", "v": 4.35}, {"s": "C", "t": "2025-02-28T10:10", "v": 2.3},
      {"s": "C", "t": "2025-02-28T11:11", "v": 4.45}, {"s": "C", "t": "2025-02-28T11:31", "v": 2.3}, {"s": "C", "t": "2025-02-28T12:01", "v": 3.05},
      {"s": "C", "t": "2025-02-28T12:42", "v": 3.0}, {"s": "C", "t": "2025-02-28T13:02", "v": 3.85}, {"s": "C", "t": "2025-02-28T13:32", "v": 2.9},
      {"s": "C", "t": "2025-02-28T13:52", "v": 3.3},

      {"s": "K", "t": "2025-02-18T14:00", "v": 0}, {"s": "K", "t": "2025-02-19T13:29", "v": 0}, {"s": "K", "t": "2025-02-19T13:30", "v": 2.55},
      {"s": "K", "t": "2025-02-19T16:53", "v": 2.55}, {"s": "K", "t": "2025-02-19T16:54", "v": 0},
      {"s": "K", "t": "2025-02-20T11:26", "v": 0}, {"s": "K", "t": "2025-02-20T11:27", "v": 1.6}, {"s": "K", "t": "2025-02-20T13:38", "v": 1.6},
      {"s": "K", "t": "2025-02-20T13:39", "v": 4.2}, {"s": "K", "t": "2025-02-20T15:50", "v": 4.2}, {"s": "K", "t": "2025-02-20T15:51", "v": 1.8},
      {"s": "K", "t": "2025-02-20T17:21", "v": 1.8}, {"s": "K", "t": "2025-02-20T17:22", "v": 0},
      {"s": "K", "t": "2025-02-21T09:32", "v": 0}, {"s": "K", "t": "2025-02-21T09:33", "v": 2.0}, {"s": "K", "t": "2025-02-21T11:14", "v": 2.0},
      {"s": "K", "t": "2025-02-21T11:15", "v": 3.7}, {"s": "K", "t": "2025-02-21T13:36", "v": 3.7}, {"s": "K", "t": "2025-02-21T13:37", "v": 2.0},
      {"s": "K", "t": "2025-02-21T17:09", "v": 2.0}, {"s": "K", "t": "2025-02-21T17:10", "v": 0},
      {"s": "K", "t": "2025-02-22T09:30", "v": 0}, {"s": "K", "t": "2025-02-22T09:31", "v": 3.3}, {"s": "K", "t": "2025-02-22T11:13", "v": 3.3},
      {"s": "K", "t": "2025-02-22T11:14", "v": 2.1}, {"s": "K", "t": "2025-02-22T16:36", "v": 2.1}, {"s": "K", "t": "2025-02-22T16:37", "v": 0},
      {"s": "K", "t": "2025-02-23T08:37", "v": 0}, {"s": "K", "t": "2025-02-23T08:38", "v": 1.8}, {"s": "K", "t": "2025-02-23T11:20", "v": 1.8},
      {"s": "K", "t": "2025-02-23T11:21", "v": 0},
      {"s": "K", "t": "2025-02-24T10:37", "v": 0}, {"s": "K", "t": "2025-02-24T10:38", "v": 1.8}, {"s": "K", "t": "2025-02-24T11:59", "v": 1.8},
      {"s": "K", "t": "2025-02-24T12:00", "v": 0},
      {"s": "K", "t": "2025-02-26T10:34", "v": 0}, {"s": "K", "t": "2025-02-26T10:35", "v": 3.55}, {"s": "K", "t": "2025-02-26T12:15", "v": 3.55},
      {"s": "K", "t": "2025-02-26T12:16", "v": 1.6}, {"s": "K", "t": "2025-02-26T14:44", "v": 1.6}, {"s": "K", "t": "2025-02-26T14:45", "v": 0},
      {"s": "K", "t": "2025-02-26T15:37", "v": 0}, {"s": "K", "t": "2025-02-26T15:38", "v": 2.35}, {"s": "K", "t": "2025-02-26T17:19", "v": 2.35},
      {"s": "K", "t": "2025-02-26T17:20", "v": 0},
      {"s": "K", "t": "2025-02-27T14:54", "v": 0}, {"s": "K", "t": "2025-02-27T14:55", "v": 2.35}, {"s": "K", "t": "2025-02-27T16:06", "v": 2.35},
      {"s": "K", "t": "2025-02-27T16:07", "v": 0}, {"s": "K", "t": "2025-02-28T13:52", "v": 0},

      {"s": "M", "t": "2025-02-18T14:00", "v": 0}, {"s": "M", "t": "2025-02-21T12:00", "v": 0}, {"s": "M", "t": "2025-02-21T12:01", "v": 1.4},
      {"s": "M", "t": "2025-02-21T12:20", "v": 1.4}, {"s": "M", "t": "2025-02-21T12:21", "v": 0}, {"s": "M", "t": "2025-02-21T14:40", "v": 0},
      {"s": "M", "t": "2025-02-21T14:41", "v": 1.4}, {"s": "M", "t": "2025-02-21T15:10", "v": 1.4}, {"s": "M", "t": "2025-02-21T15:11", "v": 0},
      {"s": "M", "t": "2025-02-26T22:01", "v": 0}, {"s": "M", "t": "2025-02-26T22:02", "v": 1.8}, {"s": "M", "t": "2025-02-26T23:13", "v": 1.8},
      {"s": "M", "t": "2025-02-26T23:14", "v": 0}, {"s": "M", "t": "2025-02-27T16:46", "v": 0}, {"s": "M", "t": "2025-02-27T16:47", "v": 1.4},
      {"s": "M", "t": "2025-02-27T17:17", "v": 1.4}, {"s": "M", "t": "2025-02-27T17:18", "v": 0}, {"s": "M", "t": "2025-02-28T07:35", "v": 0},
      {"s": "M", "t": "2025-02-28T07:36", "v": 1.8}, {"s": "M", "t": "2025-02-28T13:52", "v": 1.8},

      {"s": "A", "t": "2025-02-18T14:00", "v": 0}, {"s": "A", "t": "2025-02-19T11:28", "v": 0}, {"s": "A", "t": "2025-02-19T11:29", "v": 2.2},
      {"s": "A", "t": "2025-02-19T12:50", "v": 2.2}, {"s": "A", "t": "2025-02-19T12:51", "v": 0}, {"s": "A", "t": "2025-02-19T14:15", "v": 0},
      {"s": "A", "t": "2025-02-19T14:21", "v": 2.2}, {"s": "A", "t": "2025-02-19T14:27", "v": 0}, {"s": "A", "t": "2025-02-19T14:35", "v": 0},
      {"s": "A", "t": "2025-02-19T14:41", "v": 2.2}, {"s": "A", "t": "2025-02-19T14:47", "v": 0},
      {"s": "A", "t": "2025-02-20T13:31", "v": 0}, {"s": "A", "t": "2025-02-20T13:38", "v": 2.5}, {"s": "A", "t": "2025-02-20T13:45", "v": 0},
      {"s": "A", "t": "2025-02-22T09:30", "v": 0}, {"s": "A", "t": "2025-02-22T09:31", "v": 2.3}, {"s": "A", "t": "2025-02-22T11:33", "v": 0.9},
      {"s": "A", "t": "2025-02-22T12:54", "v": 2.2}, {"s": "A", "t": "2025-02-22T12:55", "v": 0},
      {"s": "A", "t": "2025-02-23T14:32", "v": 0}, {"s": "A", "t": "2025-02-23T14:33", "v": 1.45}, {"s": "A", "t": "2025-02-23T14:43", "v": 2.5},
      {"s": "A", "t": "2025-02-23T15:34", "v": 1.45}, {"s": "A", "t": "2025-02-23T15:35", "v": 0},
      {"s": "A", "t": "2025-02-25T06:36", "v": 0}, {"s": "A", "t": "2025-02-25T06:43", "v": 2.35}, {"s": "A", "t": "2025-02-25T06:50", "v": 0},
      {"s": "A", "t": "2025-02-26T12:49", "v": 0}, {"s": "A", "t": "2025-02-26T12:50", "v": 2.3}, {"s": "A", "t": "2025-02-26T16:09", "v": 2.3},
      {"s": "A", "t": "2025-02-26T16:10", "v": 0},
      {"s": "A", "t": "2025-02-27T13:44", "v": 0}, {"s": "A", "t": "2025-02-27T13:45", "v": 2.4}, {"s": "A", "t": "2025-02-27T14:48", "v": 2.4},
      {"s": "A", "t": "2025-02-27T14:49", "v": 0},
      {"s": "A", "t": "2025-02-28T09:52", "v": 0}, {"s": "A", "t": "2025-02-28T09:53", "v": 2.2}, {"s": "A", "t": "2025-02-28T10:53", "v": 2.2},
      {"s": "A", "t": "2025-02-28T10:54", "v": 0}, {"s": "A", "t": "2025-02-28T13:05", "v": 0}, {"s": "A", "t": "2025-02-28T13:12", "v": 2.0},
      {"s": "A", "t": "2025-02-28T13:20", "v": 0}, {"s": "A", "t": "2025-02-28T13:52", "v": 0}
    ]
  },
  "layer": [
    {
      "data": {"name": "bat"},
      "mark": {"type": "area", "color": "#3274D9", "fillOpacity": 0.2},
      "encoding": {
        "x": {"field": "t", "type": "temporal", "scale": {"domain": [{"year": 2025, "month": 2, "date": 18, "hours": 14, "minutes": 0}, {"year": 2025, "month": 2, "date": 28, "hours": 13, "minutes": 52}], "nice": false}, "axis": {"format": "%m/%d %H:%M", "tickCount": {"interval": "day", "step": 1}, "labelPadding": 7, "labelFlush": false}},
        "y": {"field": "v", "type": "quantitative", "scale": {"domain": [0, 100], "nice": false}, "axis": {"orient": "right", "values": [0, 10, 20, 30, 40, 50, 60, 70, 80, 90, 100], "labelExpr": "datum.value + '%'", "labelPadding": 7}}
      }
    },
    {
      "layer": [
        {
          "data": {"name": "pw"},
          "mark": {"type": "area", "fillOpacity": 0.14},
          "encoding": {
            "x": {"field": "t", "type": "temporal", "scale": {"domain": [{"year": 2025, "month": 2, "date": 18, "hours": 14, "minutes": 0}, {"year": 2025, "month": 2, "date": 28, "hours": 13, "minutes": 52}], "nice": false}, "axis": {"format": "%m/%d %H:%M", "tickCount": {"interval": "day", "step": 1}, "labelPadding": 7, "labelFlush": false}},
            "y": {"field": "v", "type": "quantitative", "stack": null, "scale": {"domain": [-3.45, 7.4], "nice": false, "zero": false}, "axis": {"orient": "left", "values": [-3, -2, -1, 0, 1, 2, 3, 4, 5, 6, 7], "labelExpr": "datum.value == 0 ? '0 W' : datum.value + ' kW'", "labelPadding": 5}},
            "fill": {"field": "s", "type": "nominal", "scale": {"domain": ["A", "M", "K", "C", "R", "S"], "range": ["#8AB8FF", "#96D98D", "#73BF69", "#CA95E5", "#F2722B", "#FADE2A"]}, "legend": null}
          }
        },
        {
          "data": {"name": "pw"},
          "mark": {"type": "line", "strokeWidth": 1},
          "encoding": {
            "x": {"field": "t", "type": "temporal", "scale": {"domain": [{"year": 2025, "month": 2, "date": 18, "hours": 14, "minutes": 0}, {"year": 2025, "month": 2, "date": 28, "hours": 13, "minutes": 52}], "nice": false}, "axis": {"format": "%m/%d %H:%M", "tickCount": {"interval": "day", "step": 1}, "labelPadding": 7, "labelFlush": false}},
            "y": {"field": "v", "type": "quantitative"},
            "stroke": {"field": "s", "type": "nominal", "scale": {"domain": ["S", "R", "C", "K", "M", "A"], "range": ["#FADE2A", "#F2722B", "#CA95E5", "#73BF69", "#96D98D", "#8AB8FF"]},
              "legend": {"orient": "none", "legendX": -34, "legendY": 463, "direction": "horizontal", "title": null, "symbolType": "stroke", "symbolStrokeWidth": 4, "symbolSize": 100, "labelOffset": 5, "columnPadding": 0,
                "labelExpr": "datum.label == 'S' ? 'Produção Solar' : datum.label == 'R' ? 'Rede elétrica' : datum.label == 'C' ? 'Consumo da casa' : datum.label == 'K' ? 'Carro' : datum.label == 'M' ? 'Mota' : 'AQS'"}}
          }
        },
        {
          "data": {"values": [{}]},
          "mark": {"type": "rule", "color": "#c3cbe0", "strokeWidth": 1.5},
          "encoding": {"y": {"datum": 0}}
        },
        {
          "data": {"values": [{}]},
          "mark": {"type": "rule", "color": "#e0702a", "strokeWidth": 2},
          "encoding": {"y": {"datum": -3.45}}
        }
      ]
    },
    {
      "data": {"name": "bat"},
      "mark": {"type": "line", "strokeWidth": 1},
      "encoding": {
        "x": {"field": "t", "type": "temporal", "scale": {"domain": [{"year": 2025, "month": 2, "date": 18, "hours": 14, "minutes": 0}, {"year": 2025, "month": 2, "date": 28, "hours": 13, "minutes": 52}], "nice": false}, "axis": {"format": "%m/%d %H:%M", "tickCount": {"interval": "day", "step": 1}, "labelPadding": 7, "labelFlush": false}},
        "y": {"field": "v", "type": "quantitative", "scale": {"domain": [0, 100], "nice": false}, "axis": null},
        "color": {"datum": "Bateria Casa", "scale": {"range": ["#3d7fe0"]},
          "legend": {"orient": "none", "legendX": 1363, "legendY": 463, "title": null, "symbolType": "stroke", "symbolStrokeWidth": 4, "symbolSize": 100, "labelOffset": 5}}
      }
    }
  ],
  "resolve": {"scale": {"y": "independent"}}
}
